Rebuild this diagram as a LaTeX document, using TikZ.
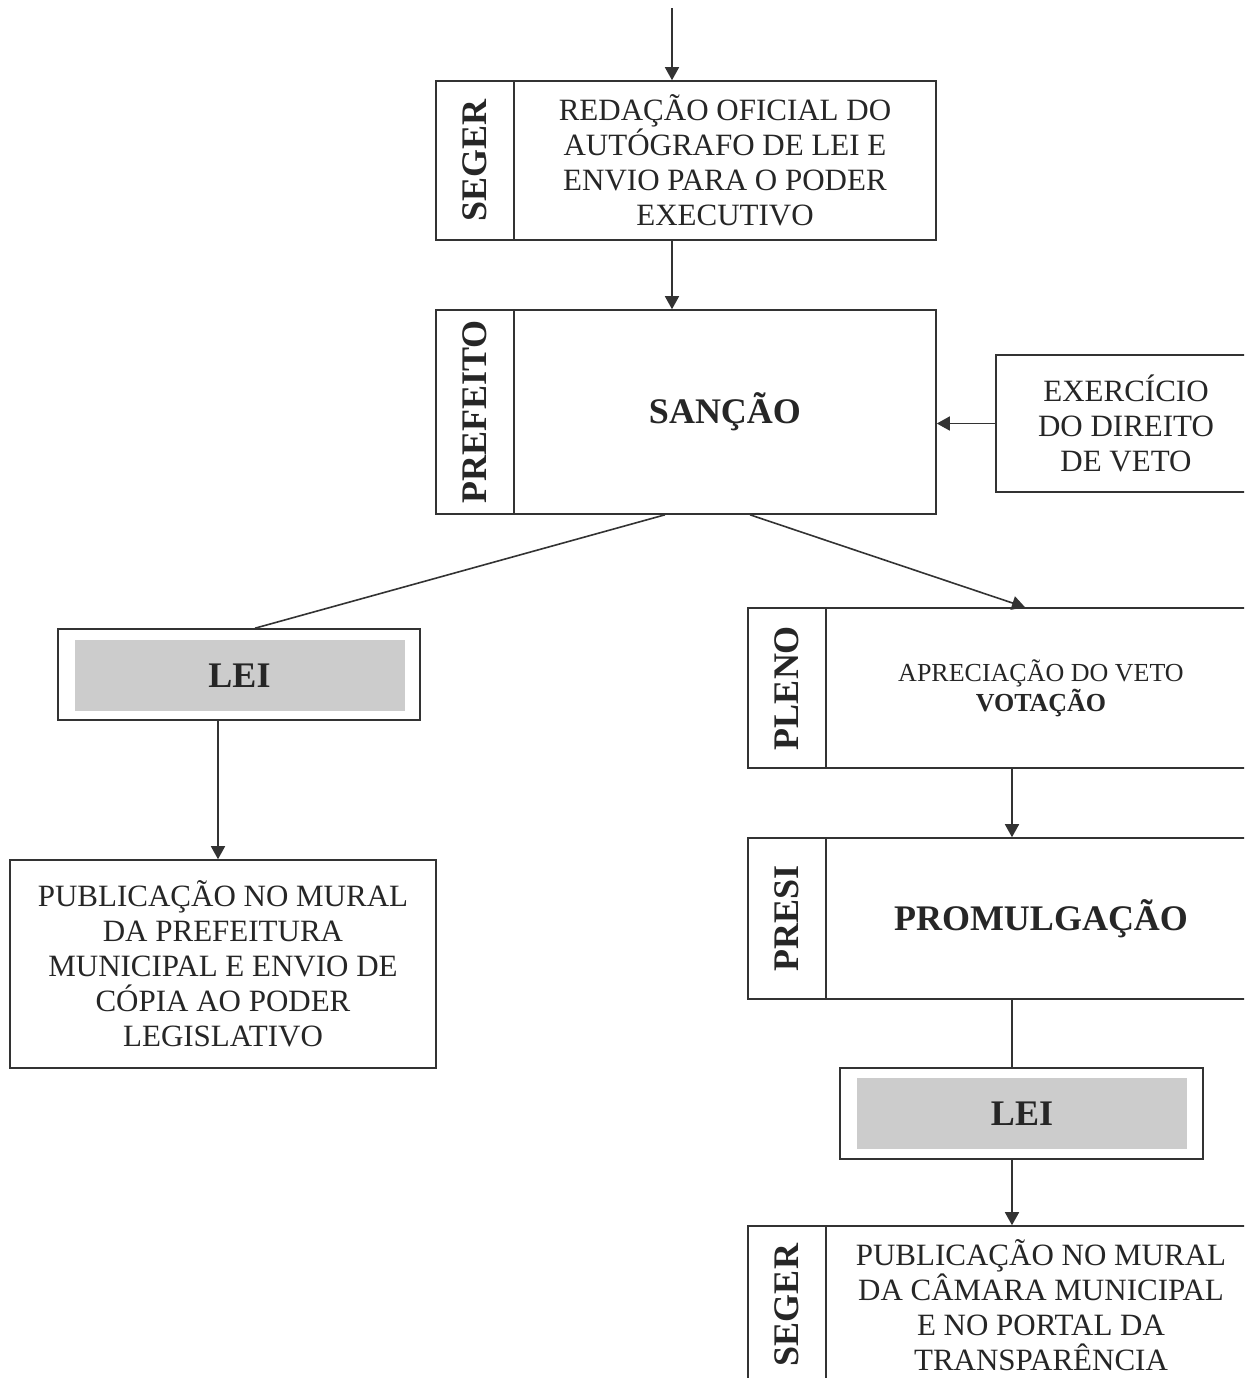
\documentclass[tikz,border=0pt]{standalone}
\usepackage{fontspec}
\setmainfont{Liberation Serif}
\usepackage{graphicx}
\usetikzlibrary{arrows.meta,calc}

\begin{document}
\begin{tikzpicture}[x=0.5pt,y=-0.5pt,
    every node/.style={inner sep=0pt, align=center, text=black!85},
    box/.style={draw=black!80, line width=0.8pt, font=\fontsize{15.5}{17.5}\selectfont},
    lane/.style={box, minimum width=39pt, font=\bfseries\fontsize{18}{20}\selectfont},
    big/.style={font=\bfseries\fontsize{18}{20}\selectfont},
    shade/.style={fill=black!20, minimum width=165pt, minimum height=35.5pt, font=\bfseries\fontsize{18}{20}\selectfont},
    arr/.style={draw=black!80, line width=0.8pt, -{Triangle[length=6.5pt,width=7pt]}},
    link/.style={draw=black!80, line width=0.8pt}]

 \clip (0,0) rectangle (1244,1378);
 \fill[white] (0,0) rectangle (1244,1378);

 \node[lane, minimum height=79.5pt] (seger1lbl) at (475,160.5) {\rotatebox{90}{SEGER}};
 \node[box, minimum width=211pt, minimum height=79.5pt] (seger1) at (725,160.5)
    {REDAÇÃO OFICIAL DO\\AUTÓGRAFO DE LEI E\\ENVIO PARA O PODER\\EXECUTIVO};

 \node[lane, minimum height=102pt] (preflbl) at (475,412) {\rotatebox{90}{PREFEITO}};
 \node[box, big, minimum width=211pt, minimum height=102pt] (sancao) at (725,412) {SANÇÃO};

 \node[box, minimum width=130pt, minimum height=68.5pt] (veto) at (1126,423.5)
    {EXERCÍCIO\\DO DIREITO\\DE VETO};

 \node[box, minimum width=181pt, minimum height=45.5pt] (lei1) at (239,674.5) {};
 \node[shade] (lei1txt) at (239.5,675.5) {LEI};

 \node[box, minimum width=213pt, minimum height=104pt] (publ1) at (223,964)
    {PUBLICAÇÃO NO MURAL\\DA PREFEITURA\\MUNICIPAL E ENVIO DE\\CÓPIA AO PODER\\LEGISLATIVO};

 \node[lane, minimum height=80pt] (plenolbl) at (787,688) {\rotatebox{90}{PLENO}};
 \node[box, minimum width=215pt, minimum height=80pt, font=\fontsize{13}{15}\selectfont] (pleno) at (1041,688)
    {APRECIAÇÃO DO VETO\\\textbf{VOTAÇÃO}};

 \node[lane, minimum height=80.5pt] (presilbl) at (787,918.5) {\rotatebox{90}{PRESI}};
 \node[box, big, minimum width=215pt, minimum height=80.5pt] (promul) at (1041,918.5) {PROMULGAÇÃO};

 \node[box, minimum width=181.5pt, minimum height=45.5pt] (lei2) at (1021.5,1113.5) {};
 \node[shade] (lei2txt) at (1022,1113.5) {LEI};

 \node[lane, minimum height=79pt] (seger2lbl) at (787,1305) {\rotatebox{90}{SEGER}};
 \node[box, minimum width=215pt, minimum height=79pt] (seger2) at (1041,1305)
    {PUBLICAÇÃO NO MURAL\\DA CÂMARA MUNICIPAL\\E NO PORTAL DA\\TRANSPARÊNCIA};

 \coordinate (top) at (672,8);
 \coordinate (lline) at (218,0);
 \coordinate (rline) at (1012,0);

 \draw[arr] (top) -- (top |- seger1.north);
 \draw[arr] (top |- seger1.south) -- (top |- sancao.north);
 \draw[arr] (veto.west) -- (veto.west -| sancao.east);
 \draw[link] ($(sancao.south)+(-60,0)$) -- ($(lei1.north)+(16,0)$);
 \draw[arr] ($(sancao.south)+(25,0)$) -- ($(pleno.north)+(-16,0)$);
 \draw[arr] (lline |- lei1.south) -- (lline |- publ1.north);
 \draw[arr] (rline |- pleno.south) -- (rline |- promul.north);
 \draw[link] (rline |- promul.south) -- (rline |- lei2.north);
 \draw[arr] (rline |- lei2.south) -- (rline |- seger2.north);

\end{tikzpicture}
\end{document}
